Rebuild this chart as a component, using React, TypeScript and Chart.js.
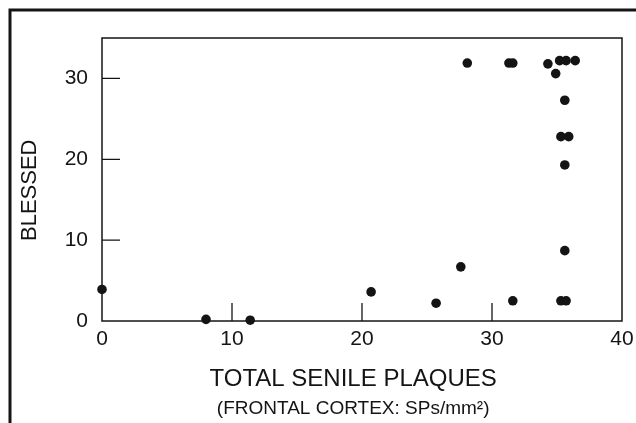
import React, { useEffect, useRef } from "react";
import { Chart, registerables } from "chart.js";

Chart.register(...registerables);

// Total senile plaques (frontal cortex, SPs/mm²)
const plaques = [0, 8.0, 11.4, 20.7, 25.7, 27.6, 31.6, 35.3, 35.7, 35.6, 35.6, 35.3, 35.9, 35.6, 28.1, 31.3, 31.6, 34.3, 34.9, 35.2, 35.7, 36.4];
// Blessed score
const blessed = [3.9, 0.2, 0.1, 3.6, 2.2, 6.7, 2.5, 2.5, 2.5, 8.7, 19.3, 22.8, 22.8, 27.3, 31.9, 31.9, 31.9, 31.8, 30.6, 32.2, 32.2, 32.2];

const xTicks = [0, 10, 20, 30, 40];
const yTicks = [0, 10, 20, 30];
const xInnerTicks = [10, 20, 30];
const yInnerTicks = [10, 20, 30];

const xTitle = "TOTAL SENILE PLAQUES";
const xSubtitle = "(FRONTAL CORTEX: SPs/mm²)";
const yTitle = "BLESSED";

const INK = "#141414";
const FONT = "'Liberation Sans', Arial, Helvetica, sans-serif";

const decorPlugin = {
  id: "decor",
  beforeDraw(chart: any) {
    const { ctx, width, height } = chart;
    ctx.save();
    ctx.fillStyle = "#ffffff";
    ctx.fillRect(0, 0, width, height);
    ctx.restore();
  },
  afterDraw(chart: any) {
    const { ctx, chartArea } = chart;
    const xs = chart.scales.x;
    const ys = chart.scales.y;
    ctx.save();
    // outer frame (top and left)
    ctx.strokeStyle = INK;
    ctx.lineWidth = 3;
    ctx.beginPath();
    ctx.moveTo(10, 423);
    ctx.lineTo(10, 10);
    ctx.lineTo(636, 10);
    ctx.stroke();
    // plot box
    ctx.lineWidth = 1.5;
    ctx.strokeRect(chartArea.left, chartArea.top, chartArea.right - chartArea.left, chartArea.bottom - chartArea.top);
    // inward tick marks
    ctx.lineWidth = 1.3;
    ctx.beginPath();
    xInnerTicks.forEach((v) => {
      const px = xs.getPixelForValue(v);
      ctx.moveTo(px, chartArea.bottom);
      ctx.lineTo(px, chartArea.bottom - 18);
    });
    yInnerTicks.forEach((v) => {
      const py = ys.getPixelForValue(v);
      ctx.moveTo(chartArea.left, py);
      ctx.lineTo(chartArea.left + 18, py);
    });
    ctx.stroke();
    // titles
    ctx.fillStyle = INK;
    ctx.textAlign = "center";
    ctx.textBaseline = "middle";
    const cx = chartArea.left + (chartArea.right - chartArea.left) * 0.483;
    ctx.font = `24px ${FONT}`;
    ctx.fillText(xTitle, cx, chartArea.bottom + 58);
    ctx.font = `19px ${FONT}`;
    ctx.fillText(xSubtitle, cx, chartArea.bottom + 88);
    ctx.save();
    ctx.translate(30, chartArea.top + (chartArea.bottom - chartArea.top) * 0.538);
    ctx.rotate(-Math.PI / 2);
    ctx.font = `22px ${FONT}`;
    ctx.fillText(yTitle, 0, 0);
    ctx.restore();
    ctx.restore();
  },
};

export default function App() {
  const ref = useRef<HTMLCanvasElement | null>(null);
  useEffect(() => {
    if (!ref.current) return;
    const chart = new Chart(ref.current, {
      type: "scatter",
      data: {
        datasets: [
          {
            data: plaques.map((x, i) => ({ x, y: blessed[i] })),
            backgroundColor: INK,
            borderColor: INK,
            borderWidth: 0,
            pointRadius: 4.8,
            pointHoverRadius: 4.8,
            clip: false,
          },
        ],
      },
      options: {
        animation: false,
        responsive: false,
        devicePixelRatio: 1,
        layout: { padding: { left: 0, right: 14, top: 38, bottom: 0 } },
        plugins: { legend: { display: false }, tooltip: { enabled: false }, title: { display: false } },
        scales: {
          x: {
            type: "linear",
            min: 0,
            max: 40,
            grid: { display: false, drawTicks: false },
            border: { display: false },
            ticks: { color: INK, font: { family: FONT, size: 21 }, padding: 6, maxRotation: 0 },
            afterBuildTicks: (s: any) => {
              s.ticks = xTicks.map((v) => ({ value: v }));
            },
            afterFit: (s: any) => {
              s.height = 102;
              s.paddingLeft = 0;
              s.paddingRight = 0;
            },
          },
          y: {
            type: "linear",
            min: 0,
            max: 35,
            grid: { display: false, drawTicks: false },
            border: { display: false },
            ticks: { color: INK, font: { family: FONT, size: 21 }, padding: 14 },
            afterBuildTicks: (s: any) => {
              s.ticks = yTicks.map((v) => ({ value: v }));
            },
            afterFit: (s: any) => {
              s.width = 102;
              s.paddingTop = 0;
              s.paddingBottom = 0;
            },
          },
        },
      },
      plugins: [decorPlugin],
    });
    return () => chart.destroy();
  }, []);
  return (
    <div style={{ position: "fixed", left: 0, top: 0, width: 636, height: 423, background: "#fff" }}>
      <canvas ref={ref} width={636} height={423} style={{ display: "block", width: 636, height: 423 }} />
    </div>
  );
}
